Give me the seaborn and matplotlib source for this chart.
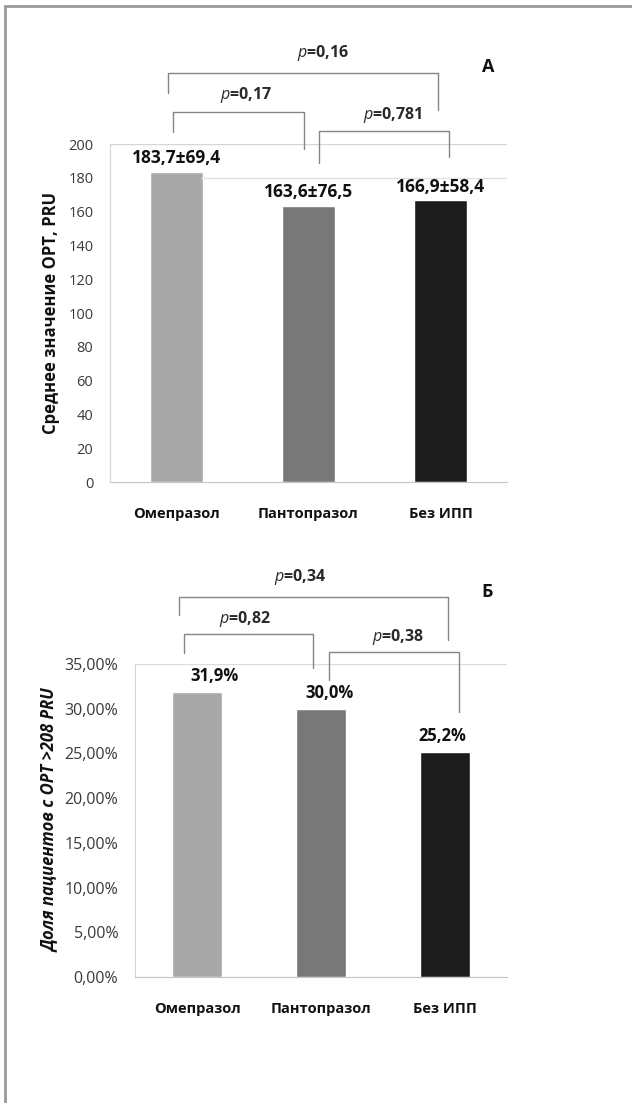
import matplotlib
matplotlib.use('Agg')
import matplotlib.pyplot as plt
import seaborn as sns
import pandas as pd
from matplotlib.lines import Line2D
from matplotlib.ticker import FuncFormatter

# данные
groups = ['Омепразол', 'Пантопразол', 'Без ИПП']
mean_opt = [183.7, 163.6, 166.9]
mean_labels = ['183,7±69,4', '163,6±76,5', '166,9±58,4']
share_high = [0.319, 0.300, 0.252]
share_labels = ['31,9%', '30,0%', '25,2%']
p_top = ['0,16', '0,17', '0,781']
p_bottom = ['0,34', '0,82', '0,38']
bar_colors = ['#a8a8a8', '#787878', '#1c1c1c']

sns.set_style('white')
plt.rcParams['font.family'] = ['Open Sans', 'DejaVu Sans']
plt.rcParams['mathtext.fontset'] = 'custom'
plt.rcParams['mathtext.it'] = 'Open Sans:italic'
plt.rcParams['mathtext.rm'] = 'Open Sans'

palette = dict(zip(groups, bar_colors))
df_a = pd.DataFrame({'group': groups, 'value': mean_opt})
df_b = pd.DataFrame({'group': groups, 'value': share_high})

fig = plt.figure(figsize=(6.32, 11.03), dpi=100)
ax1 = fig.add_axes([0.174, 0.563, 0.628, 0.3064])
ax2 = fig.add_axes([0.2136, 0.1142, 0.589, 0.2838])

line_kw = dict(color='#858585', lw=1.0, clip_on=False)
txt_kw = dict(fontsize=11.5, fontweight='bold', color='#2a2a2a', ha='center', va='center')


def bracket(ax, x0, x1, y_top, y_left, y_right):
    ax.plot([x0, x0, x1, x1], [y_left, y_top, y_top, y_right], **line_kw)


def style_axes(ax, ysize):
    for s in ['top', 'right']:
        ax.spines[s].set_visible(False)
    ax.spines['left'].set_color('#d4d4d4')
    ax.spines['bottom'].set_color('#c4c4c4')
    ax.tick_params(axis='both', length=0, colors='#3a3a3a')
    ax.tick_params(axis='y', pad=12, labelsize=ysize)
    ax.tick_params(axis='x', pad=18, labelsize=10.5)
    for lab in ax.get_xticklabels():
        lab.set_fontweight('bold')
        lab.set_color('#111111')
    ax.set_xlim(-0.5, 2.5)
    ax.set_xlabel('')


# --- панель А ---
sns.barplot(data=df_a, x='group', y='value', hue='group', palette=palette,
            width=0.4, legend=False, saturation=1, ax=ax1)
ax1.set_ylim(0, 200)
ax1.set_yticks(range(0, 201, 20))
ax1.axhline(200, color='#d6d6d6', lw=1.0)
ax1.axhline(180, xmin=0.23, color='#e2e2e2', lw=1.0)
style_axes(ax1, 10.5)
ax1.set_ylabel('Среднее значение ОРТ, PRU', fontsize=12, fontweight='bold',
               color='#111111', labelpad=6)
for i, (v, lab) in enumerate(zip(mean_opt, mean_labels)):
    ax1.annotate(lab, (i, v), xytext=(0, 3), textcoords='offset points',
                 ha='center', va='bottom', fontsize=12.5, fontweight='bold',
                 color='#111111', annotation_clip=False)

bracket(ax1, -0.064, 1.98, 242, 230, 220)
bracket(ax1, -0.02, 0.966, 219, 207, 197)
bracket(ax1, 1.08, 2.064, 207.7, 188.8, 192.3)
ax1.text(1.11, 254, r'$\mathit{p}$=' + p_top[0], **txt_kw)
ax1.text(0.53, 229, r'$\mathit{p}$=' + p_top[1], **txt_kw)
ax1.text(1.64, 217, r'$\mathit{p}$=' + p_top[2], **txt_kw)
ax1.text(2.36, 245.5, 'А', fontsize=13, fontweight='bold', color='#111111',
         ha='center', va='center')

# --- панель Б ---
sns.barplot(data=df_b, x='group', y='value', hue='group', palette=palette,
            width=0.4, legend=False, saturation=1, ax=ax2)
ax2.set_ylim(0, 0.35)
ax2.set_yticks([i * 0.05 for i in range(8)])
ax2.yaxis.set_major_formatter(FuncFormatter(lambda v, _: f'{v * 100:.2f}%'.replace('.', ',')))
ax2.axhline(0.35, color='#dcdcdc', lw=1.0)
style_axes(ax2, 11.5)
ax2.set_ylabel('Доля пациентов с ОРТ >208 PRU', fontsize=12, fontweight='bold',
               style='italic', color='#111111', labelpad=4)
label_dx = [0.14, 0.07, -0.02]
for i, (v, lab) in enumerate(zip(share_high, share_labels)):
    ax2.annotate(lab, (i + label_dx[i], v), xytext=(0, 5), textcoords='offset points',
                 ha='center', va='bottom', fontsize=12, fontweight='bold',
                 color='#111111', annotation_clip=False)

bracket(ax2, -0.149, 2.02, 0.4249, 0.4047, 0.3768)
bracket(ax2, -0.108, 0.936, 0.3835, 0.3622, 0.3455)
bracket(ax2, 1.064, 2.108, 0.3634, 0.332, 0.2963)
ax2.text(0.83, 0.447, r'$\mathit{p}$=' + p_bottom[0], **txt_kw)
ax2.text(0.39, 0.400, r'$\mathit{p}$=' + p_bottom[1], **txt_kw)
ax2.text(1.62, 0.380, r'$\mathit{p}$=' + p_bottom[2], **txt_kw)
ax2.text(2.34, 0.430, 'Б', fontsize=13, fontweight='bold', color='#111111',
         ha='center', va='center')

# рамка
fig.add_artist(Line2D([0.008, 1.0], [0.9946, 0.9946], color='#9a9a9a', lw=2,
                      transform=fig.transFigure))
fig.add_artist(Line2D([0.008, 0.008], [0.0, 0.9946], color='#9a9a9a', lw=2,
                      transform=fig.transFigure))

fig.savefig('out.png', dpi=100, facecolor='white')
